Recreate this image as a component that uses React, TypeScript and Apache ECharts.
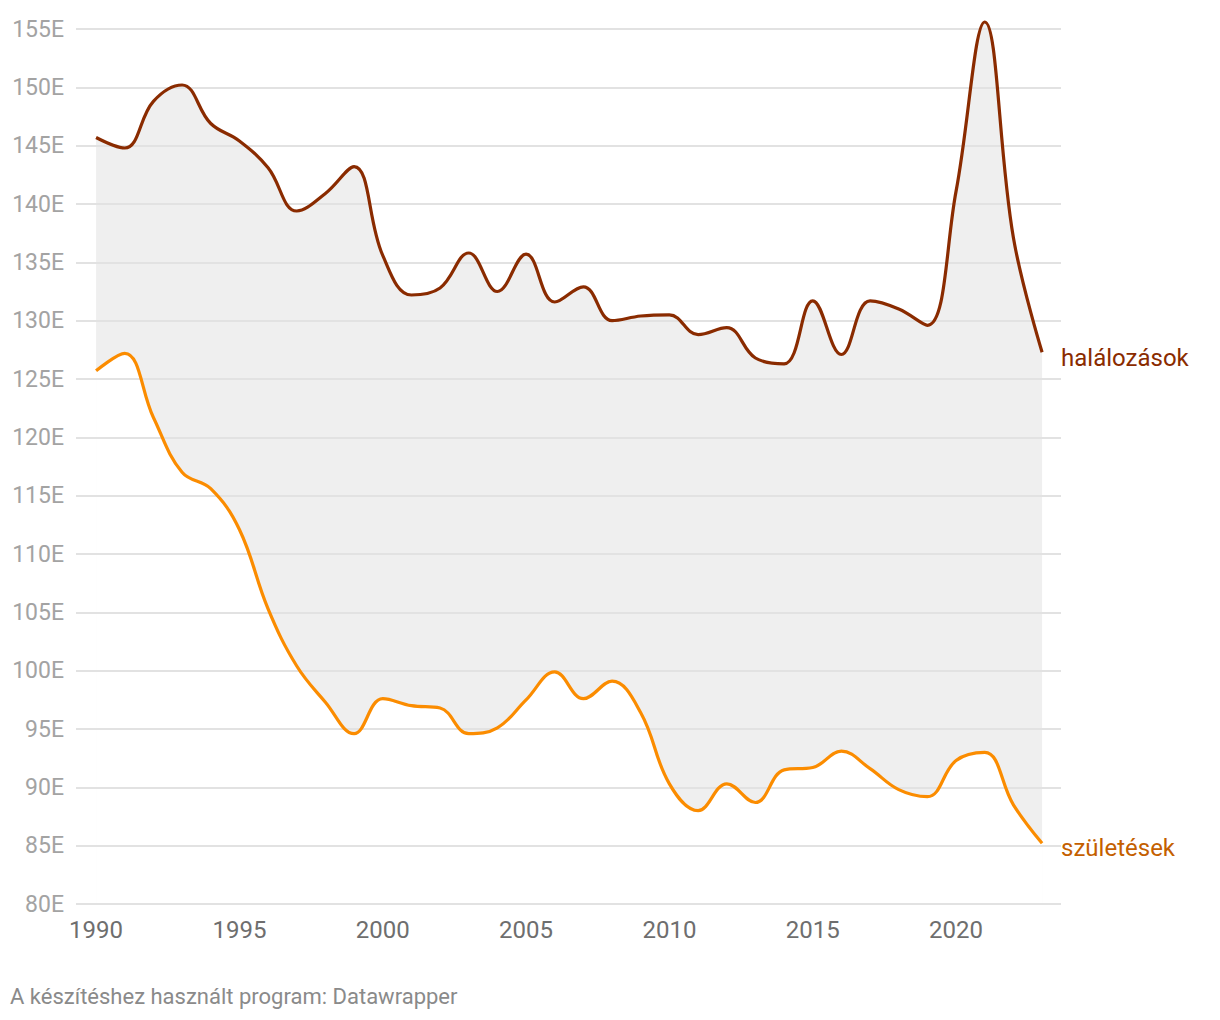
import React, { useEffect, useRef } from "react";
import * as echarts from "echarts";

const years = [1990,1991,1992,1993,1994,1995,1996,1997,1998,1999,2000,2001,2002,2003,2004,2005,2006,2007,2008,2009,2010,2011,2012,2013,2014,2015,2016,2017,2018,2019,2020,2021,2022,2023];
const deaths = [145.7,144.8,148.8,150.2,146.9,145.4,143.1,139.4,140.9,143.2,135.6,132.2,132.8,135.8,132.5,135.7,131.6,132.9,130.0,130.4,130.5,128.8,129.4,126.8,126.3,131.7,127.1,131.7,131.0,129.6,141.1,155.6,137.1,127.3];
const births = [125.7,127.2,121.7,117.0,115.6,112.1,105.3,100.4,97.3,94.6,97.6,97.0,96.8,94.6,95.1,97.5,99.9,97.6,99.1,96.4,90.3,88.0,90.3,88.7,91.5,91.7,93.1,91.6,89.8,89.2,92.3,93.0,88.5,85.2];
const xTicks = [1990,1995,2000,2005,2010,2015,2020];
const deathsLabel = "halálozások";
const birthsLabel = "születések";
const footer = "A készítéshez használt program: Datawrapper";

const FONT = "Roboto, 'Noto Sans', sans-serif";
const SMOOTH = 0.4;

export default function App() {
  const ref = useRef<HTMLDivElement>(null);
  useEffect(() => {
    const chart = echarts.init(ref.current!, null, { renderer: "svg" });
    const deathPts = deaths.map((d, i) => [years[i], d]);
    const birthPts = births.map((b, i) => [years[i], b]);
    chart.setOption({
      animation: false,
      textStyle: { fontFamily: FONT },
      grid: { left: 76, right: 159, top: 29, bottom: 116 },
      xAxis: {
        type: "value",
        min: 1989.3,
        max: 2023.66,
        axisLine: { show: false },
        axisTick: { show: false },
        splitLine: { show: false },
        axisLabel: {
          customValues: xTicks,
          color: "#6e6e6e",
          fontSize: 24,
          fontFamily: FONT,
          margin: 14,
          formatter: (v: number) => String(v),
        },
      },
      yAxis: [
        {
          type: "value",
          min: 80,
          max: 155,
          interval: 5,
          axisLine: { show: false },
          axisTick: { show: false },
          splitLine: { show: false },
          axisLabel: {
            color: "#a3a3a3",
            fontSize: 23,
            fontFamily: FONT,
            margin: 12,
            formatter: (v: number) => `${v}E`,
          },
        },
        {
          type: "value",
          position: "left",
          min: 80,
          max: 155,
          interval: 5,
          z: 2,
          axisLine: { show: false },
          axisTick: { show: false },
          axisLabel: { show: false },
          splitLine: { show: true, lineStyle: { color: "#e2e2e2", width: 2 } },
        },
      ],
      graphic: [
        {
          type: "text",
          left: 10,
          top: 985,
          style: { text: footer, fill: "#8a8a8a", fontSize: 22, fontFamily: FONT },
        },
      ],
      series: [
        {
          type: "line",
          data: deathPts,
          smooth: SMOOTH,
          symbol: "none",
          z: 1,
          lineStyle: { opacity: 0 },
          areaStyle: { color: "#efefef", opacity: 1, origin: "start" },
          clip: false,
          silent: true,
        },
        {
          type: "line",
          data: birthPts,
          smooth: SMOOTH,
          symbol: "none",
          z: 1,
          lineStyle: { opacity: 0 },
          areaStyle: { color: "#ffffff", opacity: 1, origin: "start" },
          clip: false,
          silent: true,
        },
        {
          type: "line",
          name: deathsLabel,
          data: deathPts,
          smooth: SMOOTH,
          symbol: "none",
          z: 3,
          clip: false,
          lineStyle: { color: "#8a2b00", width: 3.2 },
          endLabel: {
            show: true,
            formatter: deathsLabel,
            color: "#8a2b00",
            fontSize: 24,
            fontFamily: FONT,
            distance: 19,
            offset: [0, 6],
          },
        },
        {
          type: "line",
          name: birthsLabel,
          data: birthPts,
          smooth: SMOOTH,
          symbol: "none",
          z: 3,
          clip: false,
          lineStyle: { color: "#fb8c00", width: 3.2 },
          endLabel: {
            show: true,
            formatter: birthsLabel,
            color: "#c45f00",
            fontSize: 24,
            fontFamily: FONT,
            distance: 19,
            offset: [0, 5],
          },
        },
      ],
    });
    return () => chart.dispose();
  }, []);
  return (
    <div
      ref={ref}
      style={{ position: "fixed", left: 0, top: 0, width: 1220, height: 1020, background: "#fff" }}
    />
  );
}
